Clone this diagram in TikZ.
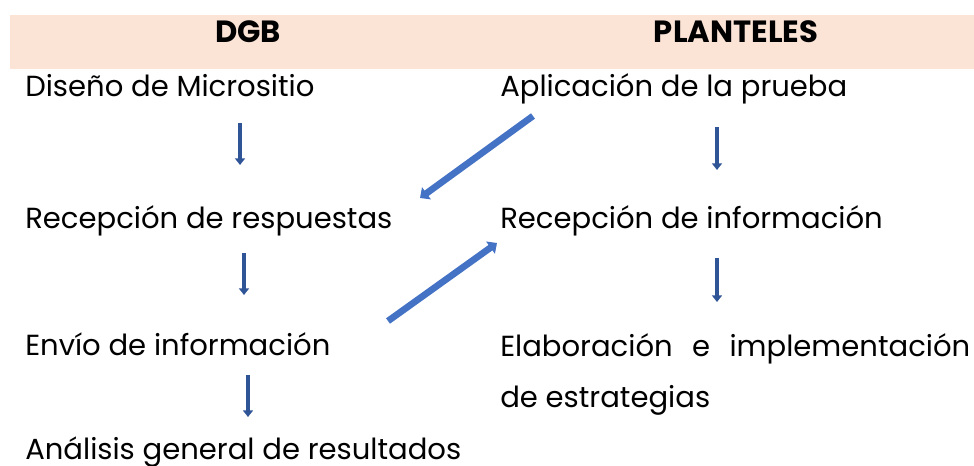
\documentclass[tikz,border=0pt]{standalone}
\usepackage{fontspec}
\setmainfont{Poppins}
\usetikzlibrary{arrows.meta}
\definecolor{kopf}{HTML}{FBE3D6}
\definecolor{blau}{HTML}{4472C4}
\definecolor{dunkelblau}{HTML}{2F5597}
\tikzset{
  schritt/.style={anchor=base west,inner sep=0pt,font=\fontsize{21.8}{38.25}\selectfont},
  titel/.style={anchor=base,inner sep=0pt,font=\fontsize{23}{26}\selectfont\bfseries},
  pfeil/.style={draw=dunkelblau,line width=2.5pt,-{Triangle[length=5pt,width=7.5pt]}},
  quer/.style={draw=blau,line width=5pt,-{Triangle[length=6pt,width=11pt]}}
}
\begin{document}
\begin{tikzpicture}[x=0.75pt,y=-0.75pt]
  \useasboundingbox (0,0) rectangle (974,466);
  \fill[kopf] (10,15) rectangle (974,69);
  \node[titel] (dgb) at (248,43) {DGB};
  \node[titel] (plant) at (736,43) {PLANTELES};
  % DGB
  \node[schritt] (dis) at (25,97) {Diseño de Micrositio};
  \node[schritt] (resp) at (25,229) {Recepción de respuestas};
  \node[schritt] (env) at (25,356) {Envío de información};
  \node[schritt] (ana) at (25,459) {Análisis general de resultados};
  % Planteles
  \node[schritt] (apl) at (500,97) {Aplicación de la prueba};
  \node[schritt] (info) at (500,229) {Recepción de información};
  \node[schritt,align=left] (ela) at (500,407) {\hbox to 352.5pt{Elaboración\hfill e\hfill implementación}\\de estrategias};
  % Pfeile
  \coordinate (d1) at (240,123); \coordinate (d2) at (240,165);
  \coordinate (d3) at (244,253); \coordinate (d4) at (244,295);
  \coordinate (d5) at (248,375); \coordinate (d6) at (248,417);
  \coordinate (p1) at (717,127); \coordinate (p2) at (717,170);
  \coordinate (p3) at (717,258); \coordinate (p4) at (717,302);
  \draw[pfeil] (d1) -- (d2);
  \draw[pfeil] (d3) -- (d4);
  \draw[pfeil] (d5) -- (d6);
  \draw[pfeil] (p1) -- (p2);
  \draw[pfeil] (p3) -- (p4);
  \coordinate (q1) at (533,116); \coordinate (q2) at (420,198);
  \coordinate (q3) at (388,321); \coordinate (q4) at (497,243);
  \draw[quer] (q1) -- (q2);
  \draw[quer] (q3) -- (q4);
\end{tikzpicture}
\end{document}
